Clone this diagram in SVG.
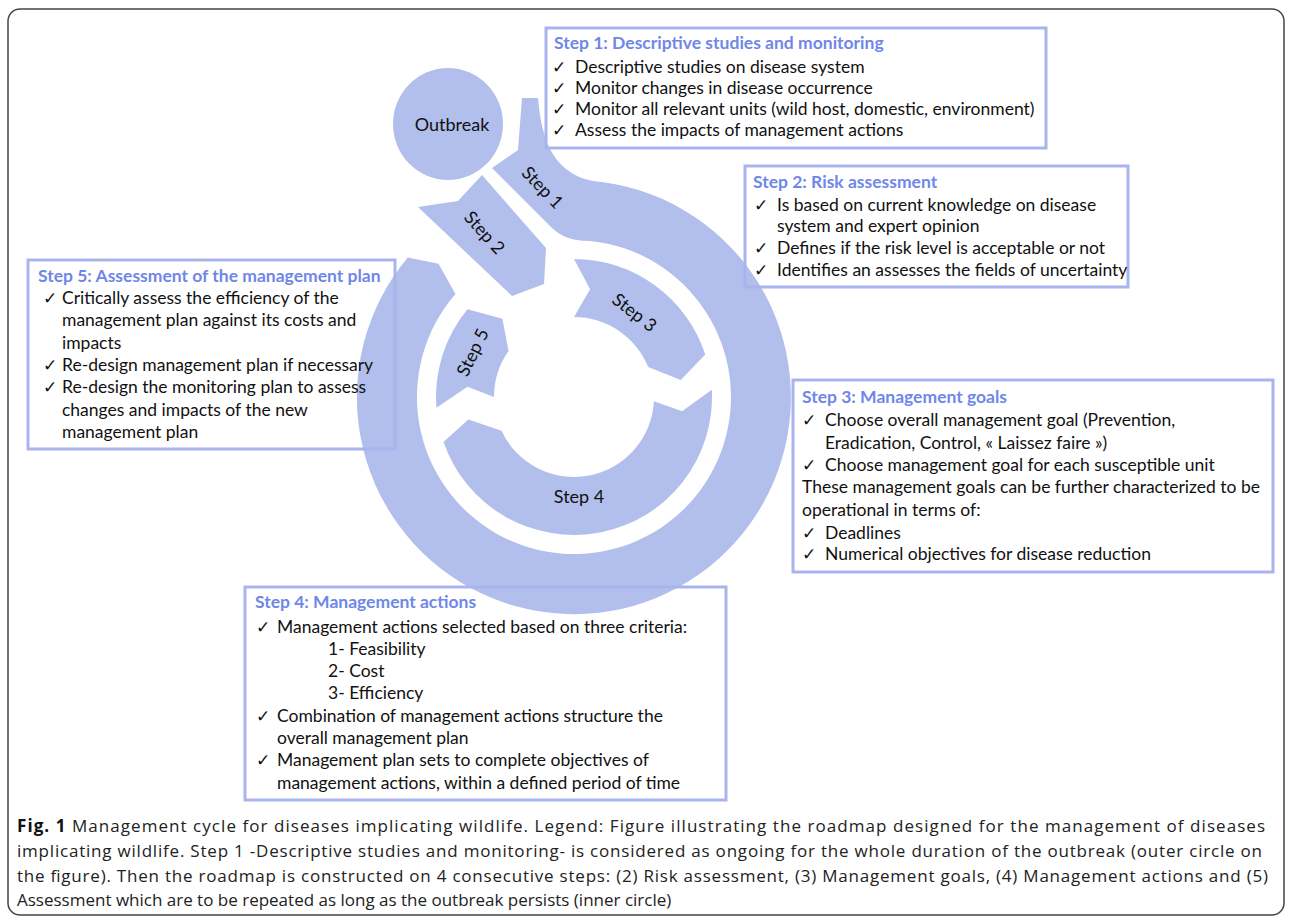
<svg xmlns="http://www.w3.org/2000/svg" width="1292" height="923" viewBox="0 0 1292 923">
<style>
.shape{fill:#B2BFEC;stroke:none}
.box{fill:none;stroke:#A9B3EE;stroke-width:3}
.title{font-family:Lato,"Liberation Sans",sans-serif;font-weight:bold;font-size:17.5px;fill:#6F87E8}
.txt{font-family:Lato,"Liberation Sans",sans-serif;font-size:17.5px;fill:#111}
.chk{font-family:"DejaVu Sans",sans-serif;font-size:17px;fill:#111}
.lbl{font-family:Lato,"Liberation Sans",sans-serif;font-size:18px;fill:#111;text-anchor:middle;dominant-baseline:central}
.cap{font-family:"Open Sans","Liberation Sans",sans-serif;font-size:17px;fill:#222}
.capb{font-family:"Open Sans","Liberation Sans",sans-serif;font-size:17px;font-weight:bold;fill:#111}
</style>
<rect x="0" y="0" width="1292" height="923" fill="#fff"/>
<rect x="8" y="9" width="1276" height="906" rx="12" fill="none" stroke="#444" stroke-width="1.5"/>

<g id="connectors">
<path class="shape" d="M 492,168 L 518,150 L 522,98 L 538,98 C 541,130 548,172 593,181 A 217 217 0 1 1 407.8,257.5 L 438.5,263.8 L 455.5,294 A 157 157 0 1 0 590.4,240.9 C 570,241 560,236 550,226 Z"/>
</g>

<g id="outbreak">
<ellipse class="shape" cx="448" cy="124" rx="55" ry="56"/>
<text class="lbl" x="452" y="124">Outbreak</text>
</g>

<g id="step1-arrow">
<text class="lbl" transform="translate(543,187) rotate(46)">Step 1</text>
</g>

<g id="step2-arrow">
<path class="shape" d="M 418,207 L 458,201 L 482,175 L 546,248 L 544,284 L 512,296 Z"/>
<text class="lbl" transform="translate(485,232) rotate(48)">Step 2</text>
</g>

<g id="step3-arrow">
<path class="shape" d="M 574,259 A 138 138 0 0 1 705.2,354.4 L 680.7,380.1 L 648.2,367 A 80 80 0 0 0 574,317 L 590.1,289.2 Z"/>
<text class="lbl" transform="translate(635,312) rotate(38)">Step 3</text>
</g>

<g id="step4-arrow">
<path class="shape" d="M 711.8,389.8 A 138 138 0 0 1 443.5,441.9 L 468.4,419.5 L 501.5,430.8 A 80 80 0 0 0 653.9,401.2 L 682.1,411.2 Z"/>
<text class="lbl" x="579" y="496">Step 4</text>
</g>

<g id="step5-arrow">
<path class="shape" d="M 436.4,407.8 A 138 138 0 0 1 467.5,309.2 L 502.4,318.8 L 508.5,351.1 A 80 80 0 0 0 494,397 L 467.5,386.7 Z"/>
<text class="lbl" transform="translate(472,352) rotate(-64)">Step 5</text>
</g>

<g id="box-step1">
<rect class="box" x="546" y="28" width="500" height="120"/>
<text class="title" x="554" y="49">Step 1: Descriptive studies and monitoring</text>
<text class="chk" x="552" y="73">✓</text><text class="txt" x="575" y="73">Descriptive studies on disease system</text>
<text class="chk" x="552" y="94">✓</text><text class="txt" x="575" y="94">Monitor changes in disease occurrence</text>
<text class="chk" x="552" y="115">✓</text><text class="txt" x="575" y="115">Monitor all relevant units (wild host, domestic, environment)</text>
<text class="chk" x="552" y="136">✓</text><text class="txt" x="575" y="136">Assess the impacts of management actions</text>
</g>

<g id="box-step2">
<rect class="box" x="745" y="166" width="383" height="121"/>
<text class="title" x="753" y="188">Step 2: Risk assessment</text>
<text class="chk" x="754" y="211">✓</text><text class="txt" x="777" y="211">Is based on current knowledge on disease</text>
<text class="txt" x="777" y="232">system and expert opinion</text>
<text class="chk" x="754" y="254">✓</text><text class="txt" x="777" y="254">Defines if the risk level is acceptable or not</text>
<text class="chk" x="754" y="276">✓</text><text class="txt" x="777" y="276">Identifies an assesses the fields of uncertainty</text>
</g>

<g id="box-step5">
<rect class="box" x="28" y="260" width="367" height="189"/>
<text class="title" x="38" y="282">Step 5: Assessment of the management plan</text>
<text class="chk" x="43" y="304">✓</text><text class="txt" x="62" y="304">Critically assess the efficiency of the</text>
<text class="txt" x="62" y="326">management plan against its costs and</text>
<text class="txt" x="62" y="349">impacts</text>
<text class="chk" x="43" y="371">✓</text><text class="txt" x="62" y="371">Re-design management plan if necessary</text>
<text class="chk" x="43" y="393">✓</text><text class="txt" x="62" y="393">Re-design the monitoring plan to assess</text>
<text class="txt" x="62" y="416">changes and impacts of the new</text>
<text class="txt" x="62" y="438">management plan</text>
</g>

<g id="box-step3">
<rect class="box" x="793" y="380" width="480" height="192"/>
<text class="title" x="802" y="403">Step 3: Management goals</text>
<text class="chk" x="802" y="426">✓</text><text class="txt" x="825" y="426">Choose overall management goal (Prevention,</text>
<text class="txt" x="825" y="449">Eradication, Control, « Laissez faire »)</text>
<text class="chk" x="802" y="471">✓</text><text class="txt" x="825" y="471">Choose management goal for each susceptible unit</text>
<text class="txt" x="802" y="493">These management goals can be further characterized to be</text>
<text class="txt" x="802" y="516">operational in terms of:</text>
<text class="chk" x="802" y="539">✓</text><text class="txt" x="825" y="539">Deadlines</text>
<text class="chk" x="802" y="560">✓</text><text class="txt" x="825" y="560">Numerical objectives for disease reduction</text>
</g>

<g id="box-step4">
<rect class="box" x="245" y="587" width="481" height="213"/>
<text class="title" x="255" y="608">Step 4: Management actions</text>
<text class="chk" x="256" y="633">✓</text><text class="txt" x="277" y="633">Management actions selected based on three criteria:</text>
<text class="txt" x="328" y="655">1- Feasibility</text>
<text class="txt" x="328" y="677">2- Cost</text>
<text class="txt" x="328" y="699">3- Efficiency</text>
<text class="chk" x="256" y="722">✓</text><text class="txt" x="277" y="722">Combination of management actions structure the</text>
<text class="txt" x="277" y="744">overall management plan</text>
<text class="chk" x="256" y="766">✓</text><text class="txt" x="277" y="766">Management plan sets to complete objectives of</text>
<text class="txt" x="277" y="789">management actions, within a defined period of time</text>
</g>

<g id="caption">
<text x="17" y="832" class="cap" textLength="1248" lengthAdjust="spacing"><tspan class="capb">Fig. 1</tspan> Management cycle for diseases implicating wildlife. Legend: Figure illustrating the roadmap designed for the management of diseases</text>
<text x="17" y="857" class="cap" textLength="1245" lengthAdjust="spacing">implicating wildlife. Step 1 -Descriptive studies and monitoring- is considered as ongoing for the whole duration of the outbreak (outer circle on</text>
<text x="17" y="882" class="cap" textLength="1251" lengthAdjust="spacing">the figure). Then the roadmap is constructed on 4 consecutive steps: (2) Risk assessment, (3) Management goals, (4) Management actions and (5)</text>
<text x="17" y="906" class="cap">Assessment which are to be repeated as long as the outbreak persists (inner circle)</text>
</g>
</svg>
